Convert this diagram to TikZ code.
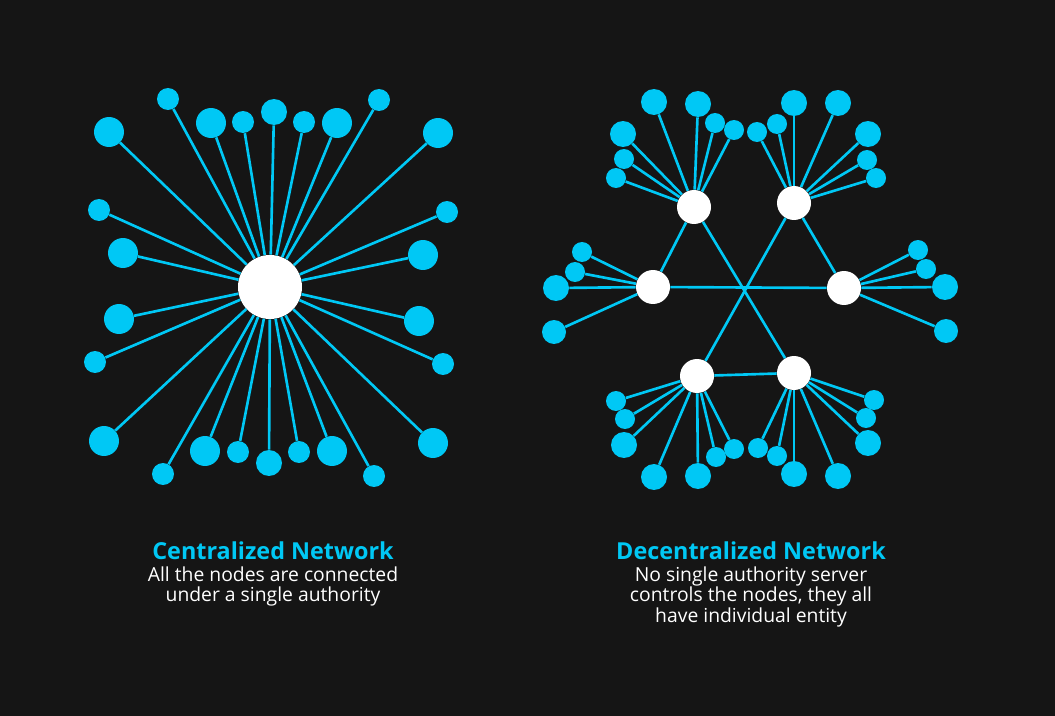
\documentclass[tikz,border=0pt]{standalone}
\usepackage{fontspec}
\setmainfont{Open Sans}
\definecolor{netbg}{HTML}{151515}
\definecolor{netcyan}{HTML}{00C8F5}

\begin{document}
\begin{tikzpicture}[x=0.02cm,y=-0.02cm,
    hub/.style={circle,fill=white,inner sep=0pt,minimum size=#1},
    leaf/.style={circle,fill=netcyan,inner sep=0pt,minimum size=#1},
    link/.style={draw=netcyan,line width=1.5pt},
    heading/.style={font=\bfseries\fontsize{13.3}{15}\selectfont,text=netcyan,inner sep=0pt},
    caption/.style={font=\fontsize{11}{11.7}\selectfont,text=white,align=center,inner sep=0pt}
]
\fill[netbg] (0,0) rectangle (1055,716);
\useasboundingbox (0,0) rectangle (1055,716);

% centralized network
\node[hub=1.28cm] (chub) at (270,287) {};
\foreach \i/\x/\y/\d in {1/168/99/0.44cm,2/109/132/0.6cm,3/211/123/0.6cm,4/243/122/0.44cm,
    5/274/112/0.52cm,6/304/122/0.44cm,7/337/123/0.6cm,8/379/100/0.44cm,9/438/133/0.6cm,
    10/99/210/0.44cm,11/447/212/0.44cm,12/123/253/0.6cm,13/423/255/0.6cm,14/119/319/0.6cm,
    15/419/321/0.6cm,16/95/362/0.44cm,17/443/364/0.44cm,18/104/441/0.6cm,19/433/443/0.6cm,
    20/163/474/0.44cm,21/205/451/0.6cm,22/238/452/0.44cm,23/269/463/0.52cm,24/299/452/0.44cm,
    25/332/451/0.6cm,26/374/476/0.44cm}{
    \node[leaf=\d] (c\i) at (\x,\y) {};
    \draw[link] (chub) -- (c\i);
}

% decentralized network
\node[hub=0.68cm] (tl) at (694,207) {};
\node[hub=0.68cm] (tr) at (794,203) {};
\node[hub=0.68cm] (l) at (653,287) {};
\node[hub=0.68cm] (r) at (844,288) {};
\node[hub=0.68cm] (bl) at (697,376) {};
\node[hub=0.68cm] (br) at (794,373) {};
\draw[link] (tl) -- (l);
\draw[link] (tl) -- (br);
\draw[link] (tr) -- (bl);
\draw[link] (tr) -- (r);
\draw[link] (l) -- (r);
\draw[link] (bl) -- (br);
\foreach \h/\i/\x/\y/\d in {tl/1/654/102/0.52cm,tl/2/698/104/0.52cm,tl/3/715/123/0.4cm,
    tl/4/734/130/0.4cm,tl/5/623/134/0.52cm,tl/6/624/159/0.4cm,tl/7/616/178/0.4cm,
    tr/1/757/132/0.4cm,tr/2/777/124/0.4cm,tr/3/794/103/0.52cm,tr/4/838/103/0.52cm,
    tr/5/868/134/0.52cm,tr/6/867/160/0.4cm,tr/7/876/178/0.4cm,
    l/1/582/252/0.4cm,l/2/575/272/0.4cm,l/3/556/288/0.52cm,l/4/554/332/0.48cm,
    r/1/918/250/0.4cm,r/2/926/269/0.4cm,r/3/945/287/0.52cm,r/4/946/331/0.48cm,
    bl/1/616/401/0.4cm,bl/2/625/419/0.4cm,bl/3/624/445/0.52cm,bl/4/654/477/0.52cm,
    bl/5/698/476/0.52cm,bl/6/716/457/0.4cm,bl/7/734/449/0.4cm,
    br/1/758/448/0.4cm,br/2/777/456/0.4cm,br/3/794/474/0.52cm,br/4/838/476/0.52cm,
    br/5/874/400/0.4cm,br/6/866/418/0.4cm,br/7/868/443/0.52cm}{
    \node[leaf=\d] (\h\i) at (\x,\y) {};
    \draw[link] (\h) -- (\h\i);
}

% labels
\node[heading] (ctitle) at (273,551) {Centralized Network};
\node[caption,anchor=north] (ctext) at (273,566) {All the nodes are connected\\under a single authority};
\node[heading] (dtitle) at (751,551) {Decentralized Network};
\node[caption,anchor=north] (dtext) at (751,566) {No single authority server\\controls the nodes, they all\\have individual entity};
\end{tikzpicture}
\end{document}
